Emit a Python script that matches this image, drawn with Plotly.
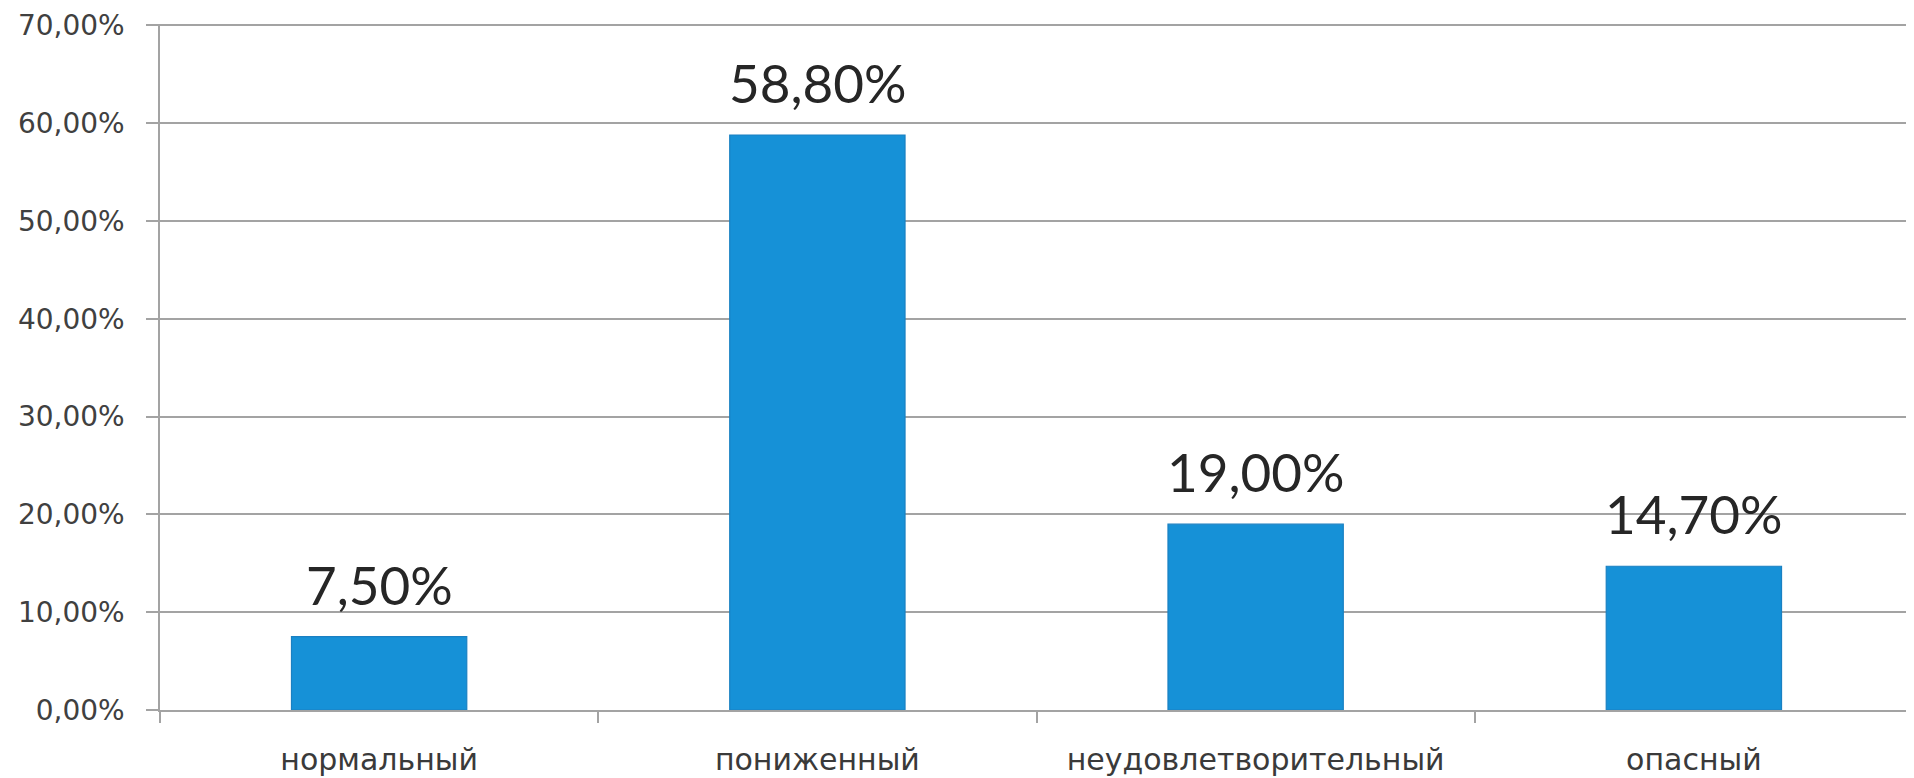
import plotly.graph_objects as go

categories = ["нормальный", "пониженный", "неудовлетворительный", "опасный"]
values = [7.5, 58.8, 19.0, 14.7]
value_labels = ["7,50%", "58,80%", "19,00%", "14,70%"]
y_ticks = [0, 10, 20, 30, 40, 50, 60, 70]
y_tick_labels = ["0,00%", "10,00%", "20,00%", "30,00%", "40,00%", "50,00%", "60,00%", "70,00%"]

fig = go.Figure()
fig.add_trace(go.Bar(
    x=categories, y=values,
    marker=dict(color="#1691d7", line=dict(color="#1a80c2", width=1.2)),
    hoverinfo="skip",
))

for c, v, t in zip(categories, values, value_labels):
    fig.add_annotation(x=c, y=v, text=t, showarrow=False, yanchor="bottom",
                       yshift=19, font=dict(family="Lato", size=53, color="#262626"))

# the page body adds an 8px offset, so the figure is sized to fit the window
fig.update_layout(
    width=1906, height=770,
    margin=dict(l=152, r=1, t=16, b=66),
    paper_bgcolor="white", plot_bgcolor="white",
    bargap=0.6, showlegend=False,
)
fig.update_yaxes(
    range=[0, 70.15], tickvals=y_ticks, ticktext=y_tick_labels,
    showgrid=True, gridcolor="#a3a3a3", gridwidth=1.5,
    ticks="outside", ticklen=12, tickcolor="#a3a3a3", tickwidth=1.5,
    showline=True, linecolor="#a3a3a3", linewidth=1.5,
    ticklabelstandoff=16,
    tickfont=dict(family="DejaVu Sans", size=28, color="#404040"),
    zeroline=False,
)
fig.update_xaxes(
    tickson="boundaries", ticks="outside", ticklen=11, tickcolor="#a3a3a3", tickwidth=1.5,
    showline=True, linecolor="#a3a3a3", linewidth=1.5,
    tickfont=dict(family="DejaVu Sans", size=30, color="#3a3a3a"),
    ticklabelstandoff=22,
)

fig.write_html("out.html")
